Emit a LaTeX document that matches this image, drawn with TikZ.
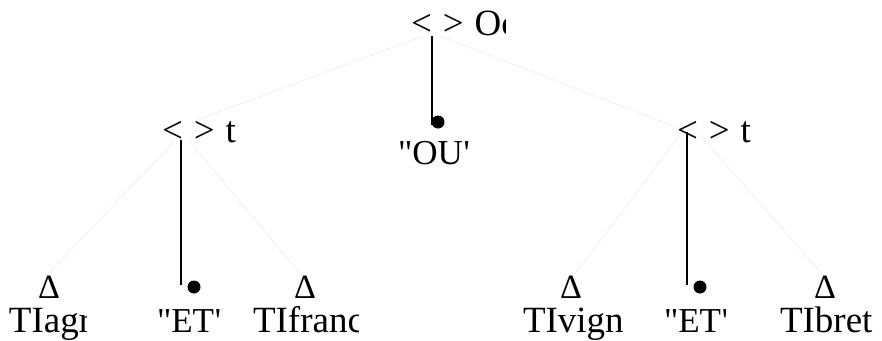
\documentclass[tikz,border=0pt]{standalone}
\usepackage{fontspec}
\setmainfont{Liberation Serif}[Ligatures=TeXOff]
\newcommand{\gapsp}{\hspace{11pt}}
\begin{document}
\begin{tikzpicture}[x=1pt,y=-1pt,
  lbl/.style={anchor=base west,inner sep=0pt,outer sep=0pt,font=\fontsize{37}{40}\selectfont},
  qlbl/.style={lbl,font=\fontsize{35}{38}\selectfont},
  tri/.style={anchor=base,inner sep=0pt,font=\fontsize{34}{36}\selectfont},
  faint/.style={draw=black!8,line width=0.6pt},
  stem/.style={draw=black,line width=1.3pt},
  dotmark/.style={circle,fill=black,inner sep=0pt,minimum size=13pt}]
\useasboundingbox (0,0) rectangle (882,340);
% root
\begin{scope}\clip (400,0) rectangle (505,60);
\node[lbl] (root) at (411,35) {<\gapsp>\gapsp Oc};
\end{scope}
% middle nodes
\node[lbl] (tl) at (162,142) {<\gapsp>\gapsp t};
\node[lbl] (tr) at (677,142) {<\gapsp>\gapsp t};
% OU
\node[dotmark] (dou) at (438,122) {};
\begin{scope}\clip (390,130) rectangle (469,175);
\node[qlbl] (ou) at (398,164) {"OU"};
\end{scope}
% bottom left
\node[tri] (d1) at (49,298) {Δ};
\begin{scope}\clip (0,300) rectangle (86,340);
\node[lbl] (agr) at (9,332) {TIagr};
\end{scope}
\node[dotmark] (det1) at (194,287) {};
\begin{scope}\clip (150,300) rectangle (222,340);
\node[qlbl] (et1) at (157,332) {"ET"};
\end{scope}
\node[tri] (d2) at (305,298) {Δ};
\begin{scope}\clip (245,300) rectangle (358,340);
\node[lbl] (franc) at (253,332) {TIfranc};
\end{scope}
% bottom right
\node[tri] (d3) at (571,298) {Δ};
\node[lbl] (vign) at (523,332) {TIvign};
\node[dotmark] (det2) at (700,287) {};
\begin{scope}\clip (650,300) rectangle (725,340);
\node[qlbl] (et2) at (664,332) {"ET"};
\end{scope}
\node[tri] (d4) at (825,298) {Δ};
\node[lbl] (bret) at (780,332) {TIbret};
% connector end points
\coordinate (rL) at (423,36);
\coordinate (rR) at (440,36);
\coordinate (rS) at (432,36);
\coordinate (tlin) at (197,120);
\coordinate (trin) at (678,128);
\coordinate (tlL) at (175,141);
\coordinate (tlR) at (190,142);
\coordinate (tlS) at (181,140);
\coordinate (trL) at (680,135);
\coordinate (trR) at (700,135);
\coordinate (trS) at (687,132);
\coordinate (d1t) at (45,277);
\coordinate (d2t) at (303,277);
\coordinate (d3t) at (574,275);
\coordinate (d4t) at (823,275);
\coordinate (ouS) at (432,125);
\coordinate (et1S) at (181,285);
\coordinate (et2S) at (687,285);
% faint tree lines
\draw[faint] (rL) -- (tlin);
\draw[faint] (rR) -- (trin);
\draw[faint] (tlL) -- (d1t);
\draw[faint] (tlR) -- (d2t);
\draw[faint] (trL) -- (d3t);
\draw[faint] (trR) -- (d4t);
% stems
\draw[stem] (rS) -- (ouS);
\draw[stem] (tlS) -- (et1S);
\draw[stem] (trS) -- (et2S);
\end{tikzpicture}
\end{document}
